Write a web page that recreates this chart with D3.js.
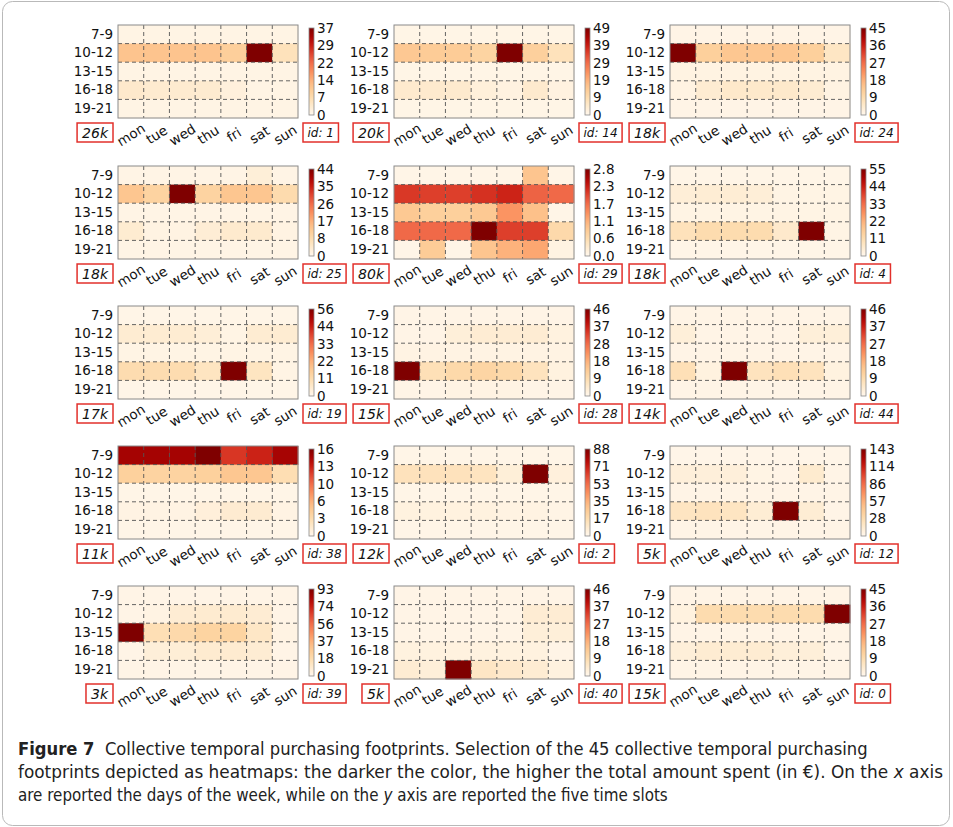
<!DOCTYPE html>
<html>
<head>
<meta charset="utf-8">
<script src="https://cdn.jsdelivr.net/npm/d3@7"></script>
<style>
  body { margin: 0; background: #fff; }
  svg { display: block; }
  .cap text { white-space: pre; }
</style>
</head>
<body>
<svg id="fig" width="953" height="827"></svg>
<script>
// ---- data ----------------------------------------------------------------
const days  = ["mon", "tue", "wed", "thu", "fri", "sat", "sun"];
const slots = ["7-9", "10-12", "13-15", "16-18", "19-21"];

const panelIds    = [1, 14, 24, 25, 29, 4, 19, 28, 44, 38, 2, 12, 39, 40, 0];
const panelTotals = ["26k", "20k", "18k", "18k", "80k", "18k", "17k", "15k", "14k", "11k", "12k", "5k", "3k", "5k", "15k"];

// colour-bar tick labels (top label is the panel maximum)
const cbTicks = [
  ["0", "7", "14", "22", "29", "37"],
  ["0", "9", "19", "29", "39", "49"],
  ["0", "9", "18", "27", "36", "45"],
  ["0", "8", "17", "26", "35", "44"],
  ["0.0", "0.6", "1.1", "1.7", "2.3", "2.8"],
  ["0", "11", "22", "33", "44", "55"],
  ["0", "11", "22", "33", "44", "56"],
  ["0", "9", "18", "28", "37", "46"],
  ["0", "9", "18", "27", "37", "46"],
  ["0", "3", "6", "10", "13", "16"],
  ["0", "17", "35", "53", "71", "88"],
  ["0", "28", "57", "86", "114", "143"],
  ["0", "18", "37", "56", "74", "93"],
  ["0", "9", "18", "27", "37", "46"],
  ["0", "9", "18", "27", "36", "45"]
];

// amount spent per time slot (rows) and day (columns)
const fp1 = [
  [1, 1, 1, 1, 1, 1, 1],
  [12, 12, 12, 12, 10, 37, 6],
  [1, 1, 1, 1, 1, 1, 1],
  [4, 3.5, 3.5, 3.5, 2, 1, 1],
  [1, 1, 1, 1, 1, 1, 1]
];
const fp14 = [
  [1, 1, 1, 1, 1, 1, 1],
  [15, 14, 14, 12, 49, 13, 8],
  [1, 1, 1, 1, 1, 1, 1],
  [5, 5, 5, 3, 2, 5, 2],
  [1, 1, 1, 1, 1, 1, 1]
];
const fp24 = [
  [1, 1, 1, 1, 1, 1, 1],
  [45, 12, 14, 14, 14, 12, 6],
  [1.5, 1.5, 1.5, 1.5, 1.5, 1.5, 1.5],
  [1.5, 4, 5, 5, 5, 4, 1.5],
  [1, 1, 1, 1, 1, 1, 1]
];
const fp25 = [
  [1, 1, 1, 1, 1, 3, 1],
  [14, 11, 44, 11, 14, 14, 9],
  [1, 1, 1, 1, 1, 1, 1],
  [4, 1.5, 1.5, 3.5, 4.5, 4.5, 1.5],
  [1, 1, 1, 1, 1, 1, 1]
];
const fp29 = [
  [0.05, 0.05, 0.05, 0.05, 0.05, 0.9, 0.05],
  [2.05, 2.0, 2.0, 2.1, 2.2, 1.75, 1.7],
  [0.85, 0.75, 0.75, 0.85, 1.35, 0.95, 0.05],
  [1.7, 1.7, 1.7, 2.8, 2.0, 2.0, 0.6],
  [0.05, 0.8, 0.05, 0.9, 1.1, 1.2, 0.1]
];
const fp4 = [
  [1, 1, 1, 1, 1, 1, 1],
  [4, 4.5, 4.5, 4, 1.5, 1.5, 1.5],
  [1.5, 1.5, 1.5, 1.5, 1.5, 1.5, 1.5],
  [9, 11, 11, 11, 6, 55, 1.5],
  [1, 1, 1, 1, 1, 1, 1]
];
const fp19 = [
  [1, 1, 1, 1, 1, 1, 1],
  [5, 5, 5, 4, 1.5, 5, 5],
  [1.5, 1.5, 1.5, 1.5, 1.5, 1.5, 1.5],
  [11, 11, 11, 8, 56, 8, 1.5],
  [1, 1, 1, 1, 1, 1, 1]
];
const fp28 = [
  [1, 1, 1, 1, 1, 1, 1],
  [1, 1, 3, 4, 4, 4, 2],
  [1.5, 1.5, 1.5, 1.5, 1.5, 1.5, 1.5],
  [46, 8, 10, 11, 10, 7, 2],
  [1, 1, 1.5, 1.5, 1.5, 1, 1]
];
const fp44 = [
  [1, 1, 1, 1, 1, 1, 1],
  [3, 1, 1, 1, 1, 3, 3],
  [1, 1, 1, 1, 1, 1, 1],
  [8, 2, 46, 7, 8, 7, 2],
  [1, 1, 1, 1, 1, 1, 1]
];
const fp38 = [
  [14.5, 14.5, 14.5, 16, 11.8, 12.6, 14.4],
  [4.2, 4, 4, 4.2, 5, 5, 3],
  [0.3, 0.3, 0.3, 0.3, 0.3, 0.3, 0.3],
  [0.5, 0.5, 0.5, 1, 1.5, 1.5, 0.5],
  [0.3, 0.3, 0.3, 0.3, 0.3, 0.3, 0.3]
];
const fp2 = [
  [1.5, 1.5, 1.5, 1.5, 1.5, 1.5, 1.5],
  [14, 14, 14, 13, 6, 88, 5],
  [1.5, 1.5, 1.5, 1.5, 1.5, 1.5, 1.5],
  [4, 4, 4, 4, 3, 3, 2],
  [1.5, 1.5, 1.5, 1.5, 1.5, 1.5, 1.5]
];
const fp12 = [
  [2, 2, 2, 2, 2, 2, 2],
  [9, 9, 9, 4, 3, 14, 3],
  [3, 3, 3, 3, 3, 3, 3],
  [20, 22, 20, 12, 143, 12, 3],
  [3, 3, 3, 3, 3, 3, 3]
];
const fp39 = [
  [2, 2, 2, 2, 2, 2, 2],
  [2, 3, 8, 9, 9, 8, 2],
  [93, 17, 20, 23, 23, 12, 3],
  [2, 6, 7, 9, 9, 8, 2],
  [2, 2, 2, 2, 2, 2, 2]
];
const fp40 = [
  [1, 1, 1, 1, 1, 1, 1],
  [1, 1, 1, 1, 1, 4, 4],
  [1, 1, 1, 1, 1, 3, 3],
  [2, 2, 2, 2, 2, 2, 1],
  [4, 3, 46, 6, 5, 4, 2]
];
const fp0 = [
  [1, 1, 1, 1, 1, 1, 1],
  [2, 9, 9, 9, 9, 9, 45],
  [1, 1, 1, 1, 1, 1, 1],
  [3, 4, 4, 4, 3, 3, 1],
  [1, 1, 1, 1, 1, 1, 1]
];
const footprints = [fp1, fp14, fp24, fp25, fp29, fp4, fp19, fp28, fp44, fp38, fp2, fp12, fp39, fp40, fp0];

// caption lines, split into [text, style] segments
const captionLine1 = [["Figure 7", "bold"], ["  Collective temporal purchasing footprints. Selection of the 45 collective temporal purchasing", "normal"]];
const captionLine2 = [["footprints depicted as heatmaps: the darker the color, the higher the total amount spent (in \u20AC). On the", "normal"], ["x", "italic"], ["axis", "normal"]];
const captionLine3 = [["are reported the days of the week, while on the", "normal"], ["y", "italic"], ["axis are reported the five time slots", "normal"]];

// ---- layout --------------------------------------------------------------
const colLeft = [118, 394, 670];
const rowTop  = [25, 166, 306, 446, 586];
const W = 180, H = 93;
const axisFont = "'DejaVu Sans', sans-serif";
const axisSize = 13.5;
const boxRed = "#e2302b";

const svg = d3.select("#fig");

// outer figure frame
svg.append("rect")
  .attr("x", 2.5).attr("y", 1.5).attr("width", 947).attr("height", 824)
  .attr("rx", 10).attr("fill", "none").attr("stroke", "#b9b9b9").attr("stroke-width", 1);

// shared colour-bar gradient
const defs = svg.append("defs");
const grad = defs.append("linearGradient").attr("id", "orrd")
  .attr("x1", 0).attr("y1", 1).attr("x2", 0).attr("y2", 0);
d3.range(0, 1.0001, 0.05).forEach(t => {
  grad.append("stop").attr("offset", t).attr("stop-color", d3.interpolateOrRd(t));
});

const x = d3.scaleBand().domain(days).range([0, W]);
const y = d3.scaleBand().domain(slots).range([0, H]);

footprints.forEach((fp, i) => {
  const col = i % 3, row = Math.floor(i / 3);
  const g = svg.append("g").attr("transform", `translate(${colLeft[col]},${rowTop[row]})`);
  const labels = cbTicks[i];
  const vmax = +labels[labels.length - 1];
  const color = d3.scaleSequential(d3.interpolateOrRd).domain([0, vmax]);

  // cells
  const cells = [];
  slots.forEach((s, r) => days.forEach((d, c) => cells.push({ s, d, v: fp[r][c] })));
  g.selectAll("rect.cell").data(cells).join("rect")
    .attr("class", "cell")
    .attr("x", d => x(d.d)).attr("y", d => y(d.s))
    .attr("width", x.bandwidth() + 0.4).attr("height", y.bandwidth() + 0.4)
    .attr("fill", d => color(Math.min(d.v, vmax)));

  // dashed grid on the cell boundaries
  g.selectAll("line.vg").data(days.slice(1)).join("line")
    .attr("class", "vg")
    .attr("x1", d => x(d)).attr("x2", d => x(d)).attr("y1", 0).attr("y2", H)
    .attr("stroke", "#555").attr("stroke-width", 0.9).attr("stroke-dasharray", "4,3");
  g.selectAll("line.hg").data(slots.slice(1)).join("line")
    .attr("class", "hg")
    .attr("x1", 0).attr("x2", W).attr("y1", d => y(d)).attr("y2", d => y(d))
    .attr("stroke", "#555").attr("stroke-width", 0.9).attr("stroke-dasharray", "4,3");

  g.append("rect").attr("width", W).attr("height", H)
    .attr("fill", "none").attr("stroke", "#8a8a8a").attr("stroke-width", 1);

  // y axis: time slots
  const ya = g.append("g").call(d3.axisLeft(y).tickSize(0).tickPadding(5));
  ya.select(".domain").remove();
  ya.attr("font-size", null).attr("font-family", null);
  ya.selectAll("text").attr("font-family", axisFont).attr("font-size", axisSize).attr("fill", "#111");

  // x axis: days, rotated
  const xa = g.append("g").attr("transform", `translate(0,${H})`)
    .call(d3.axisBottom(x).tickSize(0).tickPadding(0));
  xa.select(".domain").remove();
  xa.attr("font-size", null).attr("font-family", null);
  xa.selectAll("text")
    .attr("font-family", axisFont).attr("font-size", axisSize).attr("fill", "#111")
    .attr("y", 0).attr("dy", 0)
    .attr("text-anchor", "middle").attr("dominant-baseline", "central")
    .attr("transform", "translate(0,16.5) rotate(-32)");

  // colour bar
  const cbx = W + 11, cbw = 5;
  const cbScale = d3.scaleLinear().domain([0, vmax]).range([H - 3, 3]);
  g.append("rect").attr("x", cbx).attr("y", 3).attr("width", cbw).attr("height", H - 6)
    .attr("fill", "url(#orrd)").attr("stroke", "#8a8a8a").attr("stroke-width", 0.8);
  const ca = g.append("g").attr("transform", `translate(${cbx + cbw},0)`)
    .call(d3.axisRight(cbScale)
      .tickValues(d3.range(6).map(k => vmax * k / 5))
      .tickFormat((d, k) => labels[k])
      .tickSize(0).tickPadding(3));
  ca.select(".domain").remove();
  ca.attr("font-size", null).attr("font-family", null);
  ca.selectAll("text").attr("font-family", axisFont).attr("font-size", axisSize).attr("fill", "#111");

  // total amount box (left)
  const boxTop = H + 5, boxH = 19;
  const tTot = g.append("text")
    .attr("font-family", axisFont).attr("font-style", "italic").attr("font-size", 14)
    .attr("fill", "#111").attr("text-anchor", "middle").attr("dominant-baseline", "central")
    .text(panelTotals[i]);
  const twT = tTot.node().getComputedTextLength();
  const bwT = twT + 10;
  const bxT = -5 - bwT;
  tTot.attr("x", bxT + bwT / 2).attr("y", boxTop + boxH / 2 + 0.5);
  g.append("rect")
    .attr("x", bxT).attr("y", boxTop).attr("width", bwT).attr("height", boxH)
    .attr("fill", "#fff").attr("stroke", boxRed).attr("stroke-width", 1.5);
  tTot.raise();

  // id box (right)
  const tId = g.append("text")
    .attr("font-family", axisFont).attr("font-style", "italic").attr("font-size", 12)
    .attr("fill", "#111").attr("text-anchor", "middle").attr("dominant-baseline", "central")
    .text("id: " + panelIds[i]);
  const twI = tId.node().getComputedTextLength();
  const bwI = twI + 9;
  const bxI = W + 5;
  tId.attr("x", bxI + bwI / 2).attr("y", boxTop + boxH / 2 + 0.5);
  g.append("rect")
    .attr("x", bxI).attr("y", boxTop).attr("width", bwI).attr("height", boxH)
    .attr("fill", "#fff").attr("stroke", boxRed).attr("stroke-width", 1.5);
  tId.raise();
});

// ---- caption -------------------------------------------------------------
const capFont = "'Liberation Sans Narrow', 'DejaVu Sans Condensed', 'Open Sans', sans-serif";
const cap = svg.append("g").attr("class", "cap")
  .attr("font-family", capFont).attr("font-size", 18).attr("fill", "#222");

// lay out one caption line between x0 and x1: segments sit side by side at
// their natural widths and the whole line is scaled horizontally to fit
function captionLine(segs, x0, x1, yb) {
  const line = cap.append("g");
  const nodes = segs.map(([txt, st]) => {
    const t = line.append("text").attr("y", 0).text(txt);
    if (st === "bold") t.attr("font-weight", "bold");
    if (st === "italic") t.attr("font-style", "italic");
    return t;
  });
  const gap = 5;
  const gaps = segs.map((s, j) => (j < segs.length - 1 && (s[1] === "italic" || segs[j + 1][1] === "italic")) ? gap : 0);
  const widths = nodes.map(n => n.node().getComputedTextLength());
  const natural = d3.sum(widths) + d3.sum(gaps);
  const k = (x1 - x0) / natural;
  let cx = 0;
  nodes.forEach((n, j) => {
    n.attr("x", cx);
    cx += widths[j] + gaps[j];
  });
  line.attr("transform", `translate(${x0},${yb}) scale(${k},1)`);
}
captionLine(captionLine1, 18, 868, 755);
captionLine(captionLine2, 18, 943, 778);
captionLine(captionLine3, 18, 668, 801);
</script>
</body>
</html>
